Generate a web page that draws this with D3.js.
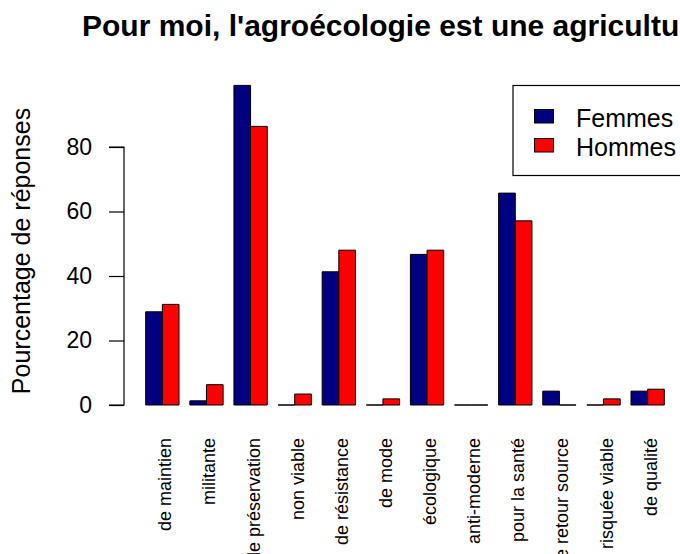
<!DOCTYPE html>
<html>
<head>
<meta charset="utf-8">
<script src="https://cdn.jsdelivr.net/npm/d3@7"></script>
<style>
  html, body { margin: 0; padding: 0; background: #fff; overflow: hidden; }
  svg { display: block; }
  text { font-family: "Liberation Sans", Arial, sans-serif; fill: #000; }
</style>
</head>
<body>
<div id="chart"></div>
<script>
// Survey answers: share of respondents (%) choosing each qualifier, by gender
const categories = ["de maintien", "militante", "de préservation", "non viable", "de résistance",
  "de mode", "écologique", "anti-moderne", "pour la santé", "de retour source",
  "risquée viable", "de qualité"];
const femmes = [28.9, 1.3, 99.1, 0, 41.3, 0, 46.7, 0, 65.7, 4.3, 0, 4.3];
const hommes = [31.2, 6.3, 86.4, 3.4, 48.0, 1.9, 48.0, 0, 57.1, 0, 1.9, 4.9];
const seriesNames = ["Femmes", "Hommes"];
const seriesColors = ["#000080", "#ff0000"];
const yTicks = [0, 20, 40, 60, 80];
const title = "Pour moi, l'agroécologie est une agriculture";
const yTitle = "Pourcentage de réponses";

const W = 680, H = 554;
const svg = d3.select("#chart").append("svg")
  .attr("width", W).attr("height", H);

const y = d3.scaleLinear().domain([0, 80]).range([405, 147]);

const x = d3.scaleBand().domain(categories)
  .range([145.7, 664.3]).paddingInner(0.245).paddingOuter(0);
const xs = d3.scaleBand().domain(seriesNames).range([0, x.bandwidth()]).padding(0);

const rows = categories.map((c, i) => ({ cat: c, vals: [femmes[i], hommes[i]] }));

// Bars (drawn as paths so zero-height bars still show their outline)
const groups = svg.append("g").selectAll("g").data(rows).join("g")
  .attr("transform", d => `translate(${x(d.cat)},0)`);
groups.selectAll("path")
  .data(d => d.vals.map((v, k) => ({ v, k })))
  .join("path")
  .attr("d", d => {
    const x0 = xs(seriesNames[d.k]), x1 = x0 + xs.bandwidth();
    return `M${x0},${y(0)}H${x1}V${y(d.v)}H${x0}Z`;
  })
  .attr("fill", d => seriesColors[d.k])
  .attr("stroke", "#000")
  .attr("stroke-width", 1);

// Y axis
const yAxis = d3.axisLeft(y).tickValues(yTicks).tickSize(15).tickPadding(17);
const ga = svg.append("g").attr("transform", "translate(124,0)").call(yAxis);
ga.selectAll("path, line").attr("stroke", "#000").attr("stroke-width", 1.2);
ga.select(".domain").attr("d", `M-15,${y(80)}H0V${y(0)}H-15`);
ga.selectAll("text")
  .style("font-family", '"Liberation Sans", Arial, sans-serif')
  .style("font-size", "23px").attr("fill", "#000");

// Category labels, vertical
svg.append("g").selectAll("text").data(categories).join("text")
  .attr("transform", d => `translate(${x(d) + x.bandwidth() / 2 + 9},438) rotate(-90)`)
  .attr("text-anchor", "end")
  .style("font-size", "18px")
  .text(d => d);

// Axis title
svg.append("text")
  .attr("transform", "translate(30,251) rotate(-90)")
  .attr("text-anchor", "middle")
  .style("font-size", "25px")
  .text(yTitle);

// Main title
svg.append("text")
  .attr("x", 82).attr("y", 36)
  .style("font-size", "30px").style("font-weight", "bold")
  .text(title);

// Legend
const lg = svg.append("g");
lg.append("rect").attr("x", 513).attr("y", 85.5).attr("width", 200).attr("height", 90)
  .attr("fill", "#fff").attr("stroke", "#000").attr("stroke-width", 1.2);
seriesNames.forEach((s, k) => {
  lg.append("rect").attr("x", 534.5).attr("y", 109.5 + k * 29).attr("width", 19).attr("height", 13.5)
    .attr("fill", seriesColors[k]).attr("stroke", "#000").attr("stroke-width", 1);
  lg.append("text").attr("x", 576).attr("y", 127 + k * 29)
    .style("font-size", "25px").text(s);
});
</script>
</body>
</html>
